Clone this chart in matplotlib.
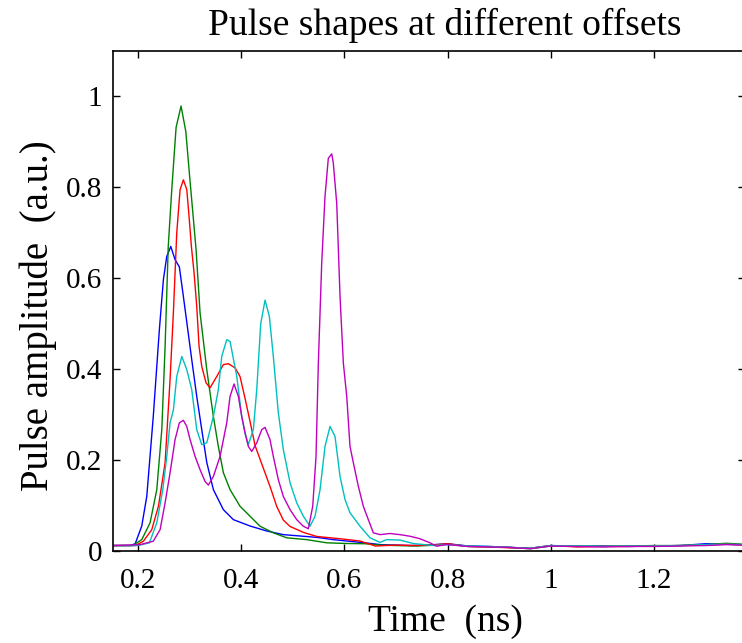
import matplotlib
matplotlib.use("Agg")
import matplotlib.pyplot as plt

plt.rcParams['font.family'] = ['Liberation Serif', 'DejaVu Serif']

# ---------------- data ----------------
title = "Pulse shapes at different offsets"
xlabel = "Time  (ns)"
ylabel = "Pulse amplitude  (a.u.)"
xticks = [0.2, 0.4, 0.6, 0.8, 1.0, 1.2]
xticklabels = ["0.2", "0.4", "0.6", "0.8", "1", "1.2"]
yticks = [0, 0.2, 0.4, 0.6, 0.8, 1.0]
yticklabels = ["0", "0.2", "0.4", "0.6", "0.8", "1"]

blue_t = [0.152, 0.185, 0.195, 0.2077, 0.2174, 0.230, 0.2418, 0.2496, 0.2561, 0.2639,
          0.2722, 0.2805, 0.2883, 0.296, 0.3045, 0.3142, 0.3239, 0.3336, 0.3464, 0.3657,
          0.3851, 0.4174, 0.4498, 0.4819, 0.5142, 0.5466, 0.5787, 0.6047, 0.64, 0.67,
          0.70, 0.73, 0.76, 0.80, 0.84, 0.88, 0.92, 0.96, 1.00, 1.05, 1.10, 1.15, 1.20,
          1.25, 1.30, 1.34, 1.40]
blue_y = [0.012, 0.012, 0.016, 0.055, 0.120, 0.296, 0.487, 0.597, 0.648, 0.670,
          0.641, 0.625, 0.560, 0.494, 0.421, 0.340, 0.267, 0.195, 0.135, 0.091,
          0.069, 0.055, 0.044, 0.036, 0.033, 0.030, 0.025, 0.022, 0.018, 0.014,
          0.013, 0.012, 0.013, 0.016, 0.011, 0.010, 0.008, 0.006, 0.012, 0.010, 0.011,
          0.010, 0.011, 0.012, 0.016, 0.015, 0.013]

green_t = [0.152, 0.19, 0.2077, 0.2238, 0.2368, 0.2465, 0.2529, 0.259, 0.2658, 0.2742,
           0.2838, 0.293, 0.2999, 0.3129, 0.3206, 0.3336, 0.3464, 0.356, 0.3657, 0.3787,
           0.398, 0.4174, 0.4368, 0.4625, 0.4885, 0.5272, 0.566, 0.6047, 0.64, 0.67,
           0.70, 0.74, 0.78, 0.80, 0.84, 0.88, 0.92, 0.96, 1.00, 1.05, 1.10, 1.15, 1.20,
           1.25, 1.30, 1.34, 1.40]
green_y = [0.012, 0.012, 0.025, 0.062, 0.135, 0.267, 0.450, 0.670, 0.795, 0.932,
           0.979, 0.923, 0.831, 0.663, 0.524, 0.399, 0.296, 0.230, 0.1725, 0.135,
           0.0985, 0.0765, 0.0545, 0.040, 0.029, 0.025, 0.018, 0.0165, 0.016, 0.013,
           0.012, 0.011, 0.013, 0.015, 0.010, 0.009, 0.008, 0.005, 0.011, 0.011, 0.010,
           0.011, 0.012, 0.012, 0.014, 0.017, 0.013]

red_t = [0.152, 0.195, 0.2109, 0.2271, 0.240, 0.2529, 0.2625, 0.2689, 0.2755, 0.2819,
         0.2883, 0.2949, 0.2993, 0.3038, 0.309, 0.3142, 0.3187, 0.3239, 0.3322, 0.340,
         0.353, 0.3657, 0.3754, 0.3884, 0.398, 0.4077, 0.4174, 0.4271, 0.4432, 0.4561,
         0.4691, 0.4819, 0.4949, 0.5206, 0.5466, 0.5917, 0.630, 0.66, 0.70, 0.74, 0.78,
         0.80, 0.84, 0.88, 0.92, 0.96, 1.00, 1.05, 1.10, 1.15, 1.20, 1.25, 1.30, 1.34, 1.40]
red_y = [0.012, 0.012, 0.0215, 0.047, 0.0985, 0.194, 0.377, 0.5235, 0.70, 0.795,
         0.8165, 0.795, 0.736, 0.670, 0.612, 0.538, 0.450, 0.406, 0.370, 0.359,
         0.384, 0.410, 0.412, 0.403, 0.384, 0.336, 0.285, 0.232, 0.182, 0.142,
         0.098, 0.068, 0.054, 0.041, 0.032, 0.027, 0.022, 0.011, 0.013, 0.012, 0.014,
         0.016, 0.010, 0.009, 0.007, 0.006, 0.012, 0.009, 0.010, 0.010, 0.011, 0.012,
         0.013, 0.015, 0.012]

cyan_t = [0.152, 0.20, 0.2225, 0.2368, 0.2484, 0.2561, 0.2625, 0.2689, 0.2755, 0.2852,
          0.2949, 0.3045, 0.3142, 0.3239, 0.3336, 0.3464, 0.356, 0.3626, 0.3723, 0.3787,
          0.3917, 0.4013, 0.4077, 0.4141, 0.4238, 0.4304, 0.4381, 0.4465, 0.4548, 0.4625,
          0.4722, 0.4819, 0.4949, 0.5078, 0.5206, 0.5336, 0.5433, 0.553, 0.5626, 0.5723,
          0.582, 0.5917, 0.6014, 0.611, 0.6304, 0.6498, 0.6691, 0.6821, 0.7079, 0.7336,
          0.7723, 0.80, 0.84, 0.88, 0.92, 0.96, 1.00, 1.05, 1.10, 1.15, 1.20, 1.25, 1.30,
          1.34, 1.40]
cyan_y = [0.012, 0.012, 0.018, 0.062, 0.135, 0.208, 0.282, 0.310, 0.384, 0.428,
          0.399, 0.355, 0.267, 0.234, 0.238, 0.296, 0.355, 0.428, 0.465, 0.461,
          0.384, 0.296, 0.260, 0.234, 0.267, 0.355, 0.500, 0.552, 0.516, 0.428,
          0.304, 0.223, 0.150, 0.106, 0.0765, 0.0545, 0.0765, 0.135, 0.230, 0.274,
          0.252, 0.164, 0.113, 0.084, 0.0545, 0.029, 0.019, 0.025, 0.024, 0.0165,
          0.012, 0.014, 0.011, 0.010, 0.008, 0.006, 0.012, 0.011, 0.010, 0.011, 0.011,
          0.012, 0.014, 0.015, 0.013]

magenta_t = [0.152, 0.2045, 0.230, 0.2432, 0.2529, 0.2625, 0.2722, 0.2805, 0.2883, 0.2949,
             0.3013, 0.311, 0.3206, 0.3303, 0.3367, 0.3464, 0.3593, 0.3723, 0.3787, 0.3864,
             0.3948, 0.4013, 0.4077, 0.4141, 0.4207, 0.4304, 0.4401, 0.4465, 0.4561, 0.4625,
             0.4722, 0.4819, 0.4949, 0.5078, 0.5206, 0.5303, 0.5388, 0.5452, 0.5497, 0.5562,
             0.5626, 0.569, 0.5756, 0.5787, 0.5853, 0.5917, 0.5981, 0.6047, 0.611, 0.6175,
             0.6271, 0.6368, 0.6465, 0.6562, 0.6691, 0.6885, 0.7079, 0.7272, 0.7466, 0.7659,
             0.7789, 0.7983, 0.84, 0.88, 0.92, 0.96, 1.00, 1.05, 1.10, 1.15, 1.20, 1.25,
             1.30, 1.34, 1.40]
magenta_y = [0.012, 0.014, 0.0215, 0.047, 0.106, 0.172, 0.245, 0.282, 0.2875, 0.274,
             0.245, 0.208, 0.179, 0.153, 0.145, 0.164, 0.208, 0.282, 0.340, 0.3675,
             0.340, 0.296, 0.260, 0.230, 0.219, 0.238, 0.267, 0.272, 0.245, 0.208,
             0.157, 0.120, 0.091, 0.069, 0.0545, 0.049, 0.0985, 0.208, 0.4136, 0.633,
             0.780, 0.864, 0.8736, 0.853, 0.765, 0.560, 0.4136, 0.340, 0.230, 0.194,
             0.1425, 0.0985, 0.069, 0.040, 0.036, 0.0385, 0.036, 0.0325, 0.027, 0.018,
             0.0105, 0.0143, 0.010, 0.009, 0.008, 0.005, 0.011, 0.010, 0.009, 0.010, 0.010,
             0.011, 0.012, 0.014, 0.012]

series = [
    (blue_t, blue_y, (0, 0, 1)),
    (green_t, green_y, (0, 0.5, 0)),
    (red_t, red_y, (1, 0, 0)),
    (cyan_t, cyan_y, (0, 0.75, 0.75)),
    (magenta_t, magenta_y, (0.75, 0, 0.75)),
]

# ---------------- figure ----------------
W, H = 742, 643
fig = plt.figure(figsize=(W / 100, H / 100), dpi=100)
ax = fig.add_axes([113 / W, 92 / H, 632 / W, 500 / H])

for t, y, c in series:
    ax.plot(t, y, color=c, lw=1.0)

ax.set_xlim(0.152, 1.376)
ax.set_ylim(0, 1.1)
ax.set_xticks(xticks)
ax.set_xticklabels(xticklabels)
ax.set_yticks(yticks)
ax.set_yticklabels(yticklabels)
ax.tick_params(direction='in', length=5, width=1.0, top=True, right=True,
               labelsize=21)
ax.tick_params(axis='x', pad=12)
ax.tick_params(axis='y', pad=8)
for s in ax.spines.values():
    s.set_linewidth(1.2)

ax.set_xlabel(xlabel, fontsize=27)
ax.xaxis.set_label_coords((445 - 113) / 632, (551 - 604) / 500)
ax.set_ylabel(ylabel, fontsize=28)
ax.yaxis.set_label_coords((57 - 113) / 632, 0.47)
fig.text(445 / W, (H - 35) / H, title, fontsize=27, ha='center', va='baseline')

fig.savefig("out.png", dpi=100)
